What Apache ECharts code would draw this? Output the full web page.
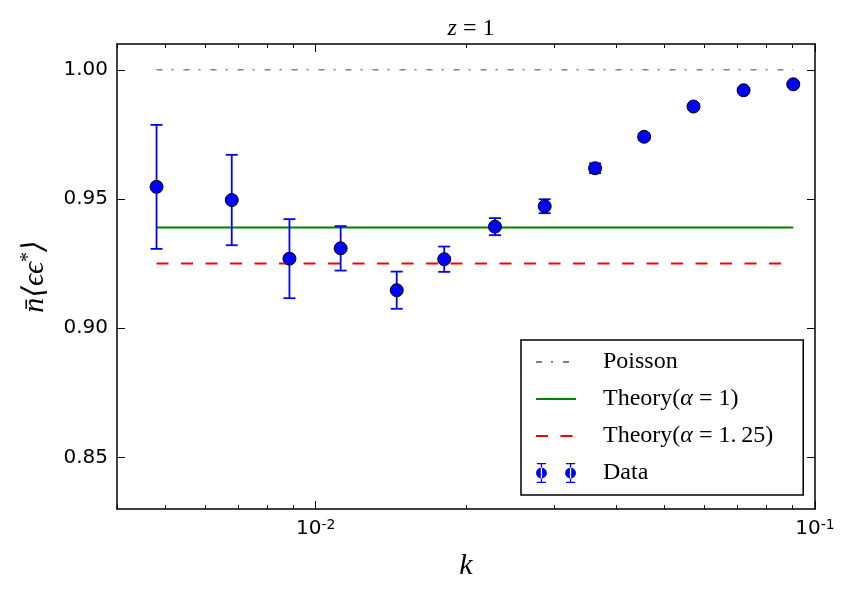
<!DOCTYPE html>
<html>
<head>
<meta charset="utf-8">
<title>z = 1</title>
<script src="https://cdn.jsdelivr.net/npm/echarts@6/dist/echarts.min.js"></script>
</head>
<body style="margin:0">
<div id="main" style="width:854px;height:595px;"></div>
<script type="text/javascript">
// k values (log spaced) and measured n<ee*>
var kVals = [0.00480, 0.00679, 0.00886, 0.01122, 0.01453, 0.01809, 0.02286, 0.02875, 0.03627, 0.04548, 0.05711, 0.07194, 0.09046];
var dataVals = [0.9547, 0.9496, 0.9269, 0.9309, 0.9147, 0.9267, 0.9393, 0.9472, 0.9619, 0.9741, 0.9858, 0.9921, 0.9944];
var errVals = [0.0240, 0.0175, 0.0153, 0.0086, 0.0072, 0.0049, 0.0033, 0.0027, 0.0019, 0.0012, 0.0008, 0.0005, 0.0004];

var poissonVal = 1.0;
var theory1Val = 0.939;
var theory125Val = 0.925;

var xMajorTicks = [0.01, 0.1];
var xMinorTicks = [0.004, 0.005, 0.006, 0.007, 0.008, 0.009, 0.02, 0.03, 0.04, 0.05, 0.06, 0.07, 0.08, 0.09];
var yTicks = [0.85, 0.90, 0.95, 1.00];

var serif = "'Liberation Serif', 'DejaVu Serif', serif";
var sans = "'DejaVu Sans', sans-serif";

var kFirst = kVals[0];
var kLast = kVals[kVals.length - 1];

var points = kVals.map(function (k, i) { return [k, dataVals[i]]; });
var bars = kVals.map(function (k, i) { return [k, dataVals[i] - errVals[i], dataVals[i] + errVals[i]]; });

var dataIcon = 'path://M2,12a6,6 0 1,0 12,0a6,6 0 1,0 -12,0Z M7.3,1h1.4v22h-1.4Z M3,1h10v1.4h-10Z M3,21.6h10v1.4h-10Z ' +
    'M34,12a6,6 0 1,0 12,0a6,6 0 1,0 -12,0Z M39.3,1h1.4v22h-1.4Z M35,1h10v1.4h-10Z M35,21.6h10v1.4h-10Z';

var legendText = {
    'Poisson': '{r|Poisson}',
    'Theory1': '{r|Theory(}{i|α}{r| = 1)}',
    'Theory125': '{r|Theory(}{i|α}{r| = 1.\u200925)}',
    'Data': '{r|Data}'
};

// hide the marker that echarts puts on line legend icons
var noMarker = { color: 'rgba(0,0,0,0)', borderWidth: 0, opacity: 0 };

function xAxisBase(pos, tickLen, ticks, showLine) {
    return {
        type: 'log',
        logBase: 10,
        min: 0.004,
        max: 0.1,
        position: pos,
        axisLine: { show: showLine, lineStyle: { color: '#000', width: 1.5 } },
        axisTick: { show: true, inside: true, length: tickLen, customValues: ticks, lineStyle: { color: '#000', width: 1 } },
        axisLabel: { show: false },
        splitLine: { show: false },
        minorTick: { show: false }
    };
}

var xBottom = xAxisBase('bottom', 8, xMajorTicks, true);
xBottom.axisLabel = {
    show: true,
    customValues: xMajorTicks,
    margin: 9,
    formatter: function (v) {
        var e = Math.round(Math.log(v) / Math.LN10);
        return '{b|10}{s|' + e + '}';
    },
    rich: {
        b: { fontFamily: sans, fontSize: 20, color: '#000' },
        s: { fontFamily: sans, fontSize: 14, color: '#000', verticalAlign: 'top', padding: [0, 0, 8, 0] }
    }
};
xBottom.name = 'k';
xBottom.nameLocation = 'middle';
xBottom.nameGap = 42;
xBottom.nameTextStyle = { fontFamily: serif, fontStyle: 'italic', fontSize: 30, color: '#000' };

function yAxisBase(pos, showLabel) {
    return {
        type: 'value',
        min: 0.83,
        max: 1.01,
        position: pos,
        axisLine: { show: true, lineStyle: { color: '#000', width: 1.5 } },
        axisTick: { show: true, inside: true, length: 8, customValues: yTicks, lineStyle: { color: '#000', width: 1 } },
        axisLabel: {
            show: showLabel,
            customValues: yTicks,
            margin: 9,
            fontFamily: sans,
            fontSize: 20,
            color: '#000',
            formatter: function (v) { return v.toFixed(2); }
        },
        splitLine: { show: false }
    };
}

var yLeft = yAxisBase('left', true);
yLeft.name = '{a|n̄⟨ϵϵ}{s|*}{a|⟩}';
yLeft.nameLocation = 'middle';
yLeft.nameRotate = 90;
yLeft.nameGap = 66;
yLeft.nameTextStyle = {
    rich: {
        a: { fontFamily: serif, fontStyle: 'italic', fontSize: 30, color: '#000' },
        s: { fontFamily: serif, fontSize: 20, color: '#000', verticalAlign: 'top', padding: [0, 0, 12, 0] }
    }
};

var myChart = echarts.init(document.getElementById('main'));

var option = {
    animation: false,
    backgroundColor: '#fff',
    title: {
        text: '{i|z}{r| = 1}',
        left: 466,
        top: 12,
        textAlign: 'center',
        textStyle: {
            rich: {
                i: { fontFamily: serif, fontStyle: 'italic', fontWeight: 'normal', fontSize: 24, color: '#000' },
                r: { fontFamily: serif, fontWeight: 'normal', fontSize: 24, color: '#000' }
            }
        }
    },
    grid: { left: 117, right: 39, top: 44, bottom: 86, containLabel: false, outerBoundsMode: 'none' },
    legend: {
        orient: 'vertical',
        left: 521,
        top: 340,
        padding: [10, 30, 10, 14],
        itemWidth: 40,
        itemHeight: 24,
        itemGap: 13,
        borderColor: '#000',
        borderWidth: 1.5,
        borderRadius: 0,
        backgroundColor: '#fff',
        data: [
            { name: 'Poisson', itemStyle: noMarker },
            { name: 'Theory1', itemStyle: noMarker },
            { name: 'Theory125', itemStyle: noMarker },
            { name: 'Data', icon: dataIcon, itemStyle: { borderWidth: 0, color: '#0000ff' } }
        ],
        formatter: function (name) { return legendText[name]; },
        textStyle: {
            padding: [0, 0, 0, 22],
            rich: {
                r: { fontFamily: serif, fontSize: 24, color: '#000' },
                i: { fontFamily: serif, fontStyle: 'italic', fontSize: 24, color: '#000' }
            }
        }
    },
    xAxis: [
        xBottom,
        xAxisBase('bottom', 4, xMinorTicks, false),
        xAxisBase('top', 8, xMajorTicks, true),
        xAxisBase('top', 4, xMinorTicks, false)
    ],
    yAxis: [
        yLeft,
        yAxisBase('right', false)
    ],
    series: [
        {
            name: 'Poisson',
            type: 'line',
            symbol: 'none',
            data: [[kFirst, poissonVal], [kLast, poissonVal]],
            lineStyle: { color: '#808080', width: 1.5, type: [6, 9, 2, 10] },
            itemStyle: { color: '#808080' },
            z: 2
        },
        {
            name: 'Theory1',
            type: 'line',
            symbol: 'none',
            data: [[kFirst, theory1Val], [kLast, theory1Val]],
            lineStyle: { color: '#008000', width: 2 },
            itemStyle: { color: '#008000' },
            z: 2
        },
        {
            name: 'Theory125',
            type: 'line',
            symbol: 'none',
            data: [[kFirst, theory125Val], [kLast, theory125Val]],
            lineStyle: { color: '#ff0000', width: 2, type: [12, 12.5] },
            itemStyle: { color: '#ff0000' },
            z: 2
        },
        {
            name: 'DataErr',
            type: 'custom',
            data: bars,
            encode: { x: 0, y: [1, 2] },
            z: 3,
            renderItem: function (params, api) {
                var x = api.value(0);
                var pLo = api.coord([x, api.value(1)]);
                var pHi = api.coord([x, api.value(2)]);
                var hw = 6;
                var st = { stroke: '#0000ff', lineWidth: 1.8 };
                return {
                    type: 'group',
                    children: [
                        { type: 'line', shape: { x1: pLo[0], y1: pLo[1], x2: pHi[0], y2: pHi[1] }, style: st },
                        { type: 'line', shape: { x1: pLo[0] - hw, y1: pLo[1], x2: pLo[0] + hw, y2: pLo[1] }, style: st },
                        { type: 'line', shape: { x1: pHi[0] - hw, y1: pHi[1], x2: pHi[0] + hw, y2: pHi[1] }, style: st }
                    ]
                };
            }
        },
        {
            name: 'Data',
            type: 'scatter',
            data: points,
            symbol: 'circle',
            symbolSize: 13,
            itemStyle: { color: '#0000ff', borderColor: '#000', borderWidth: 1, opacity: 1 },
            z: 4
        }
    ]
};

myChart.setOption(option);
</script>
</body>
</html>
